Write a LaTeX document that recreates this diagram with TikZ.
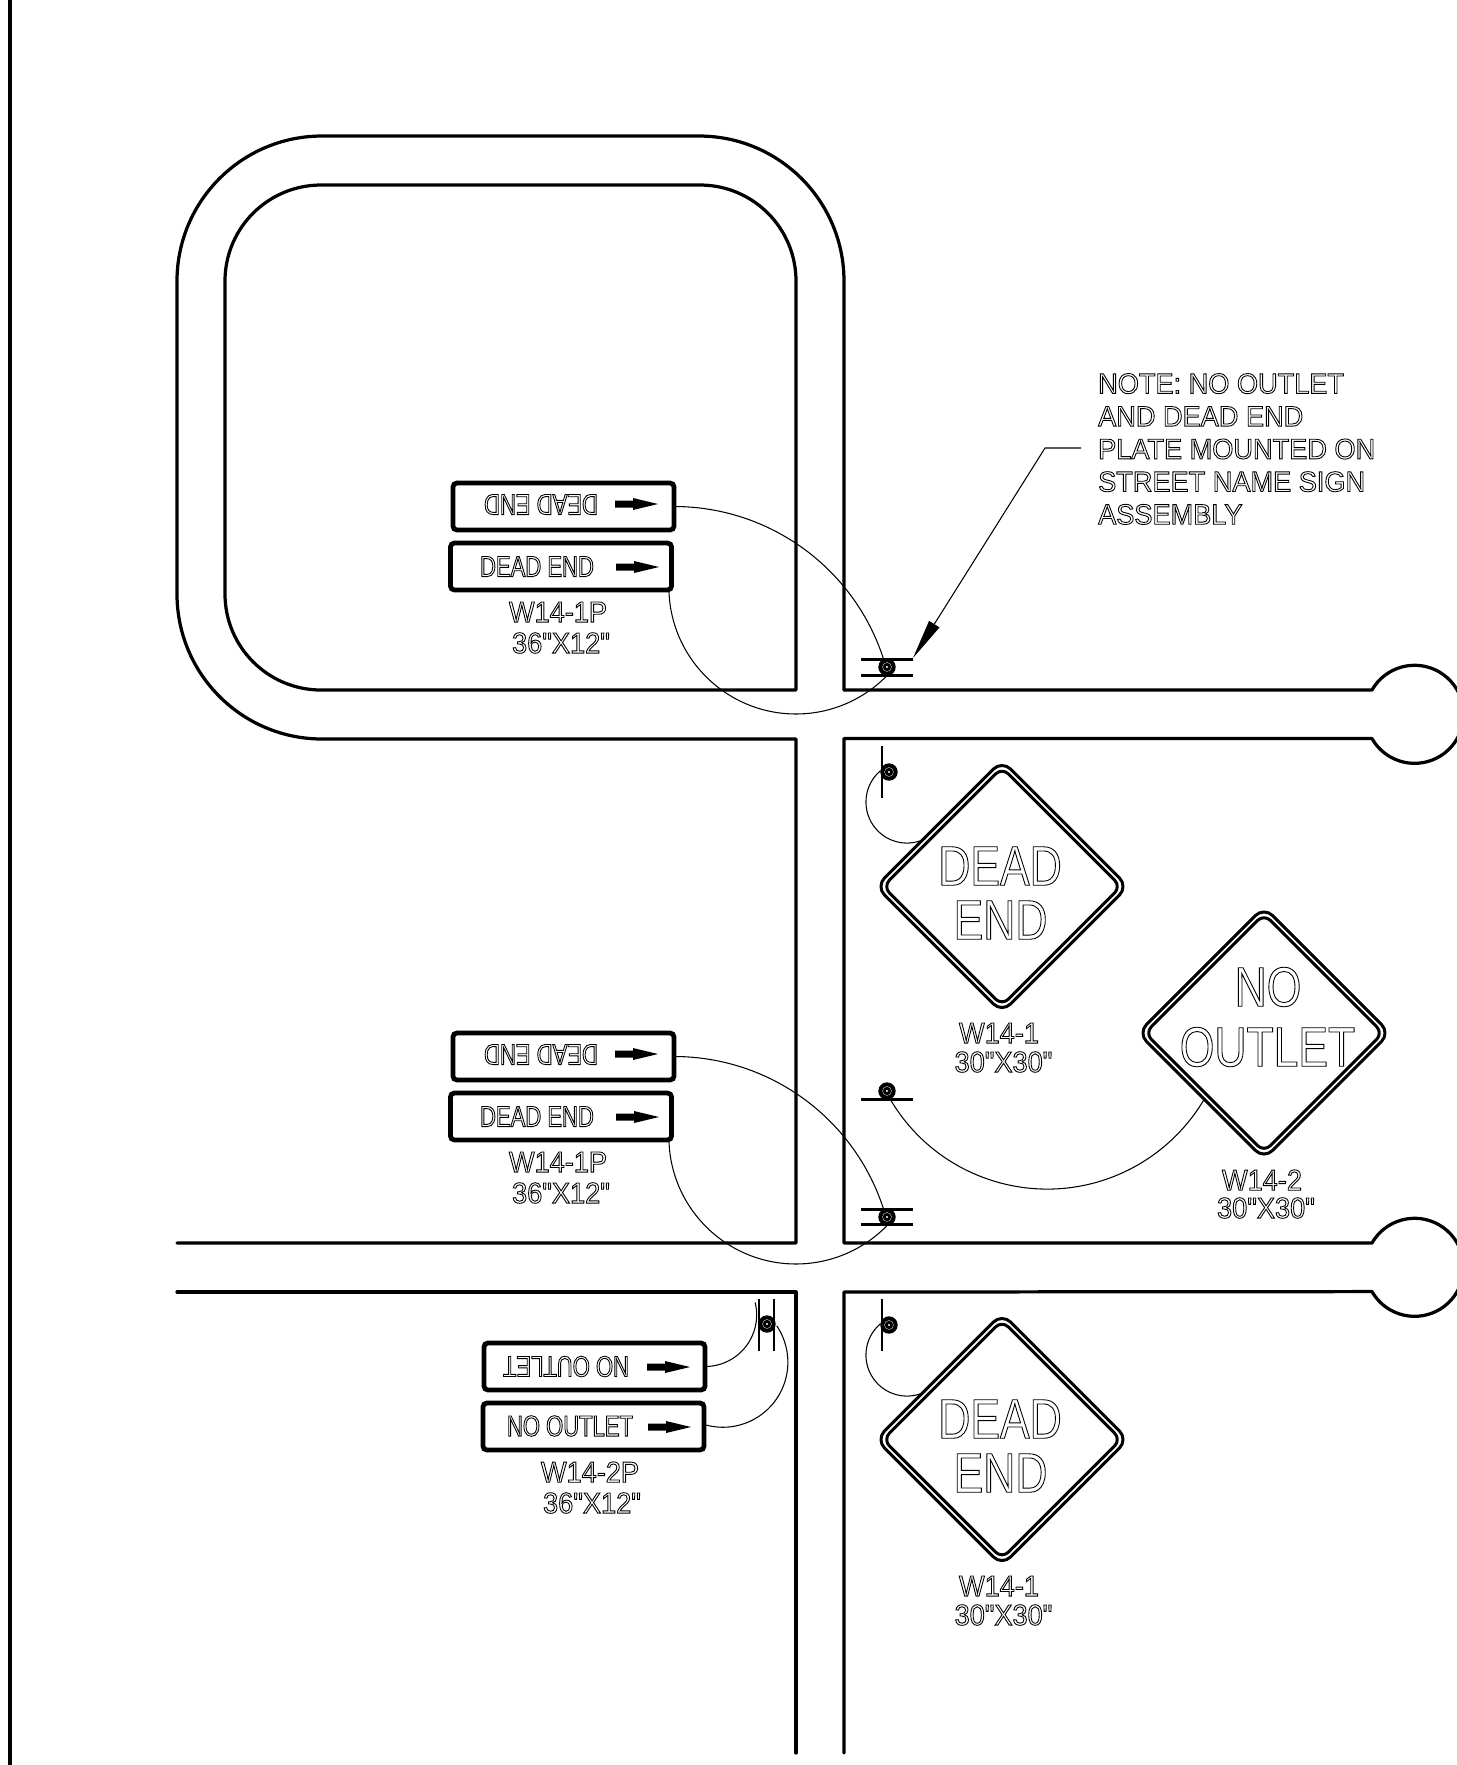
\documentclass[tikz,border=0pt]{standalone}
\usepackage{fontspec}
\usetikzlibrary{arrows.meta}
\newfontfamily\notefont[FakeStretch=0.953]{Liberation Sans}
\newfontfamily\tagfont[FakeStretch=0.93]{Liberation Sans}
\newfontfamily\platefont[FakeStretch=0.755]{Liberation Sans}
\newfontfamily\bigfont[FakeStretch=0.795]{Liberation Sans}
\tikzset{
	road/.style={line width=0.92pt, line cap=round, line join=round},
	thinline/.style={line width=0.3pt},
	bar/.style={line width=0.85pt},
	plate/.style={draw, line width=1.35pt, rounded corners=0.04cm, minimum width=2.21cm, minimum height=0.47cm, inner sep=0pt, outer sep=0pt},
	signEdge/.style={line width=0.85pt, line join=round},
	hollow/.style={inner sep=0pt, execute at begin node={\special{pdf:code 1 Tr 0.25 w}}, execute at end node={\special{pdf:code 0 Tr}}},
	noteText/.style={hollow, font=\fontsize{8.1pt}{9.3pt}\selectfont\notefont, align=left, anchor=west},
	plateText/.style={hollow, font=\fontsize{8.3pt}{9pt}\selectfont\platefont},
	tagText/.style={hollow, font=\fontsize{8.3pt}{9pt}\selectfont\tagfont},
	bigText/.style={hollow, font=\fontsize{15.9pt}{17pt}\selectfont\bigfont}
}
\def\postmark(#1){\fill (#1) circle (0.087cm);
	\draw[white, line width=0.08pt] (#1) circle (0.045cm);
	\fill[white] (#1) circle (0.012cm);}
\def\platearrow(#1){\fill (#1) ++(0,-3.5) -- ++(18,0) -- ++(0,-2.5) -- ++(25,6) -- ++(-25,6) -- ++(0,-2.5) -- ++(-18,0) -- cycle;}
\def\warnsign(#1){\draw[signEdge, rounded corners=0.12cm] (#1) ++(0,-126) -- ++(126,126) -- ++(-126,126) -- ++(-126,-126) -- cycle;
	\draw[signEdge, rounded corners=0.09cm] (#1) ++(0,-119) -- ++(119,119) -- ++(-119,119) -- ++(-119,-119) -- cycle;}

\begin{document}
\begin{tikzpicture}[x=0.01cm, y=-0.01cm]
	\useasboundingbox (0,0) rectangle (1457,1765);

	% frame
	\draw[road] (10,0) -- (10,1765);

	% roads
	\draw[road] (796,690) [rounded corners=0.96cm] -- (225,690) -- (225,185) -- (796,185) -- (796,400) [sharp corners] -- (796,690);
	\draw[road] (844,690) [rounded corners=1.45cm] -- (844,136) -- (177,136) -- (177,739) -- (500,739) [sharp corners] -- (796,739) -- (796,1243) -- (177,1243);
	\draw[road] (844,690) -- (1372,690) arc[start angle=150.3, end angle=-150.3, radius=0.49cm] -- (844,738.5) -- (844,1243) -- (1372,1243) arc[start angle=150.3, end angle=-150.3, radius=0.49cm] -- (844,1292) -- (844,1753);
	\draw[road] (177,1292) -- (796,1292) -- (796,1753);

	% plates, upper
	\node[plate] (plateA) at (563.5,506.5) {};
	\node[plateText, rotate=180] (plateAtext) at (541,504.5) {DEAD END};
	\platearrow(615,504)
	\node[plate] (plateB) at (561,566.5) {};
	\node[plateText] (plateBtext) at (537,566.5) {DEAD END};
	\platearrow(616,567)
	\node[tagText] (tagA) at (558,612) {W14-1P};
	\node[tagText] (tagB) at (561,643) {36"X12"};

	% plates, middle
	\node[plate] (plateC) at (563.5,1056.5) {};
	\node[plateText, rotate=180] (plateCtext) at (541,1054.5) {DEAD END};
	\platearrow(615,1054)
	\node[plate] (plateD) at (561,1116.5) {};
	\node[plateText] (plateDtext) at (537,1116.5) {DEAD END};
	\platearrow(616,1117)
	\node[tagText] (tagC) at (558,1162) {W14-1P};
	\node[tagText] (tagD) at (561,1193) {36"X12"};

	% plates, lower
	\node[plate] (plateE) at (594.5,1366.5) {};
	\node[plateText, rotate=180] (plateEtext) at (566,1366.5) {NO OUTLET};
	\platearrow(647,1367)
	\node[plate] (plateF) at (593.5,1426.5) {};
	\node[plateText] (plateFtext) at (570,1426) {NO OUTLET};
	\platearrow(648,1427)
	\node[tagText] (tagE) at (590,1472) {W14-2P};
	\node[tagText] (tagF) at (592,1503) {36"X12"};

	% diamonds
	\warnsign(1002,886.5)
	\node[bigText] (deadA) at (1000,866) {DEAD};
	\node[bigText] (endA) at (1000.5,920) {END};
	\node[tagText] (tagG) at (999,1033) {W14-1};
	\node[tagText] (tagH) at (1003.5,1062) {30"X30"};

	\warnsign(1264,1033)
	\node[bigText] (noA) at (1268,987) {NO};
	\node[bigText] (outletA) at (1267.5,1047) {OUTLET};
	\node[tagText] (tagI) at (1262,1180) {W14-2};
	\node[tagText] (tagJ) at (1266,1208) {30"X30"};

	\warnsign(1002,1439.5)
	\node[bigText] (deadB) at (1000,1419) {DEAD};
	\node[bigText] (endB) at (1000.5,1473) {END};
	\node[tagText] (tagK) at (999,1586) {W14-1};
	\node[tagText] (tagL) at (1003.5,1615) {30"X30"};

	% callouts
	\draw[thinline] (plateA.east) arc[start angle=90, end angle=17.5, radius=2.2cm];
	\draw[thinline] (669,592) arc[start angle=182.3, end angle=315.8, radius=1.27cm];
	\draw[thinline] (plateC.east) arc[start angle=90, end angle=17.5, radius=2.2cm];
	\draw[thinline] (669,1142) arc[start angle=182.3, end angle=315.8, radius=1.27cm];
	\draw[thinline] (plateE.east) arc[start angle=-90, end angle=14, radius=0.516cm];
	\draw[thinline] (706,1425) arc[start angle=-105, end angle=34, radius=0.65cm];
	\draw[thinline] (880.6,770.6) arc[start angle=130, end angle=297, radius=0.41cm];
	\draw[thinline] (880.6,1323.6) arc[start angle=130, end angle=297, radius=0.41cm];
	\draw[thinline] (889.5,1098) arc[start angle=210, end angle=330, radius=1.82cm];

	% posts
	\draw[bar] (861,659) -- (913,659);
	\draw[bar] (861,675) -- (913,675);
	\postmark(887,667)
	\draw[bar] (882,746) -- (882,798);
	\postmark(889,772)
	\draw[bar] (861,1099) -- (913,1099);
	\postmark(887,1091)
	\draw[bar] (861,1209) -- (913,1209);
	\draw[bar] (861,1224.5) -- (913,1224.5);
	\postmark(887,1217)
	\draw[bar] (759,1299) -- (759,1351);
	\draw[bar] (774,1299) -- (774,1351);
	\postmark(767,1324)
	\draw[bar] (882,1299) -- (882,1351);
	\postmark(889,1325)

	% note
	\node[noteText] (noteText) at (1097.5,449) {NOTE: NO OUTLET\\AND DEAD END\\PLATE MOUNTED ON\\STREET NAME SIGN\\ASSEMBLY};
	\coordinate (noteBend) at (1045,448);
	\draw[thinline, -{Triangle[length=0.4cm, width=0.12cm]}] (1081,448) -- (noteBend) -- (913,658);
\end{tikzpicture}
\end{document}
